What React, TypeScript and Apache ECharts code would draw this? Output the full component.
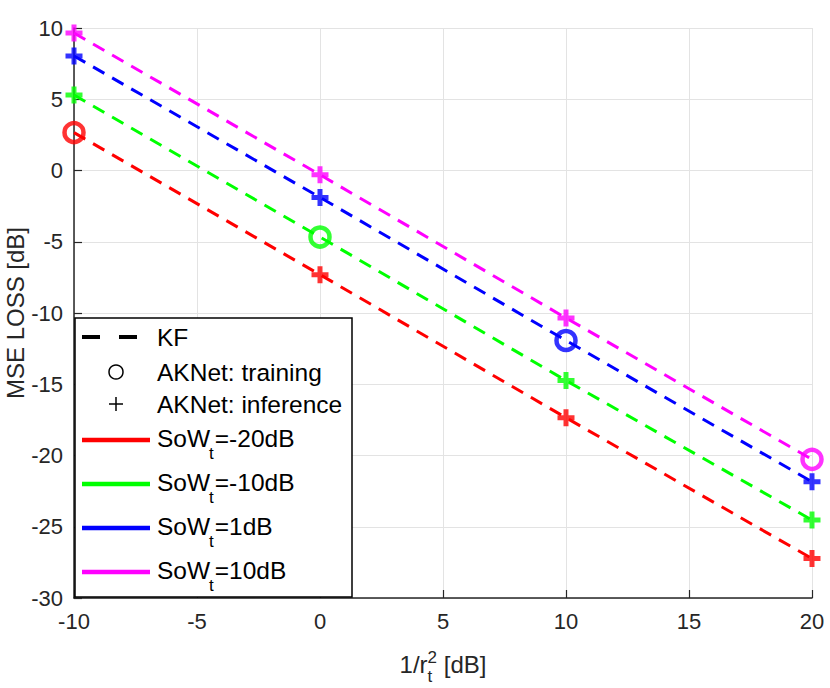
import React, { useEffect, useRef } from "react";
import * as echarts from "echarts";

const xValues = [-10, 0, 10, 20];
const colors = ["#ff0000", "#00ff00", "#0000ff", "#ff00ff"];
const sowLabels = ["=-20dB", "=-10dB", "=1dB", "=10dB"];

// KF (dashed lines)
const kfRed = [2.66, -7.31, -17.35, -27.23];
const kfGreen = [5.3, -4.67, -14.74, -24.53];
const kfBlue = [8.04, -1.89, -11.93, -21.84];
const kfMagenta = [9.65, -0.3, -10.35, -20.27];

// AKNet markers
const akRed = [2.66, -7.31, -17.35, -27.23];
const akGreen = [5.3, -4.67, -14.74, -24.53];
const akBlue = [8.04, -1.89, -11.93, -21.84];
const akMagenta = [9.65, -0.3, -10.35, -20.27];

// index of the x value where the marker is the training circle
const trainingIndex = [0, 1, 2, 3];

const xTitleMain = "1/r";
const xTitleSup = "2";
const xTitleSub = "t";
const xTitleTail = " [dB]";
const yTitle = "MSE LOSS [dB]";

const FONT = '"Liberation Sans", Arial, Helvetica, sans-serif';
const PLUS = "path://M5,0L5,10M0,5L10,5";

function measure(text: string, size: number): number {
  const c = document.createElement("canvas").getContext("2d");
  if (!c) return text.length * size * 0.55;
  c.font = `${size}px "Liberation Sans"`;
  return c.measureText(text).width;
}

export default function App() {
  const ref = useRef<HTMLDivElement>(null);
  useEffect(() => {
    if (!ref.current) return;
    const chart = echarts.init(ref.current, undefined, { renderer: "svg" });
    const kf = [kfRed, kfGreen, kfBlue, kfMagenta];
    const ak = [akRed, akGreen, akBlue, akMagenta];

    const series: any[] = [];
    kf.forEach((vals, i) => {
      series.push({
        type: "line",
        data: xValues.map((x, j) => [x, vals[j]]),
        showSymbol: false,
        symbol: "none",
        lineStyle: { color: colors[i], width: 3, type: [13, 9] },
        z: 2,
      });
    });
    ak.forEach((vals, i) => {
      series.push({
        type: "scatter",
        data: xValues.map((x, j) =>
          j === trainingIndex[i]
            ? {
                value: [x, vals[j]],
                symbol: "circle",
                symbolSize: 19,
                itemStyle: { color: "none", borderColor: colors[i], borderWidth: 4.5 },
              }
            : {
                value: [x, vals[j]],
                symbol: PLUS,
                symbolSize: 17,
                itemStyle: { color: "none", borderColor: colors[i], borderWidth: 5 },
              }
        ),
        z: 3,
      });
    });

    // legend
    const L = { x: 75, y: 318, w: 277, h: 279 };
    const tx = 157;
    const legendFont = 24.5;
    const subFont = 17;
    const graphics: any[] = [
      {
        type: "rect",
        shape: { x: L.x, y: L.y, width: L.w, height: L.h },
        style: { fill: "#ffffff", stroke: "#000000", lineWidth: 1.5 },
        z: 10,
      },
      {
        type: "line",
        shape: { x1: 82, y1: 337, x2: 137, y2: 337 },
        style: { stroke: "#000000", lineWidth: 4, lineDash: [18, 19] },
        z: 11,
      },
      {
        type: "text",
        x: tx,
        y: 337,
        style: { text: "KF", font: `${legendFont}px ${FONT}`, fill: "#000", verticalAlign: "middle" },
        z: 11,
      },
      {
        type: "circle",
        shape: { cx: 116, cy: 372, r: 7 },
        style: { fill: "none", stroke: "#000", lineWidth: 1.5 },
        z: 11,
      },
      {
        type: "text",
        x: tx,
        y: 372,
        style: { text: "AKNet: training", font: `${legendFont}px ${FONT}`, fill: "#000", verticalAlign: "middle" },
        z: 11,
      },
      {
        type: "line",
        shape: { x1: 109, y1: 404, x2: 123, y2: 404 },
        style: { stroke: "#000", lineWidth: 1.5 },
        z: 11,
      },
      {
        type: "line",
        shape: { x1: 116, y1: 397, x2: 116, y2: 411 },
        style: { stroke: "#000", lineWidth: 1.5 },
        z: 11,
      },
      {
        type: "text",
        x: tx,
        y: 404,
        style: { text: "AKNet: inference", font: `${legendFont}px ${FONT}`, fill: "#000", verticalAlign: "middle" },
        z: 11,
      },
    ];
    const rowY = [438, 482, 526, 570];
    const wSoW = measure("SoW", legendFont);
    const wt = measure("t", subFont);
    colors.forEach((c, i) => {
      const y = rowY[i];
      graphics.push({
        type: "line",
        shape: { x1: 82, y1: y + 2, x2: 150, y2: y + 2 },
        style: { stroke: c, lineWidth: 4.5 },
        z: 11,
      });
      graphics.push({
        type: "text",
        x: tx,
        y,
        style: { text: "SoW", font: `${legendFont}px ${FONT}`, fill: "#000", verticalAlign: "middle" },
        z: 11,
      });
      graphics.push({
        type: "text",
        x: tx + wSoW - 1,
        y: y + 15,
        style: { text: "t", font: `${subFont}px ${FONT}`, fill: "#000", verticalAlign: "middle" },
        z: 11,
      });
      graphics.push({
        type: "text",
        x: tx + wSoW + wt,
        y,
        style: { text: sowLabels[i], font: `${legendFont}px ${FONT}`, fill: "#000", verticalAlign: "middle" },
        z: 11,
      });
    });

    // x-axis title
    const titleFont = 24;
    const scriptFont = 17;
    const wMain = measure(xTitleMain, titleFont);
    const wScript = Math.max(measure(xTitleSup, scriptFont), measure(xTitleSub, scriptFont));
    const wTail = measure(xTitleTail, titleFont);
    const total = wMain + wScript + wTail;
    const cx = 443;
    const x0 = cx - total / 2;
    const ty = 664;
    graphics.push(
      {
        type: "text",
        x: x0,
        y: ty,
        style: { text: xTitleMain, font: `${titleFont}px ${FONT}`, fill: "#262626", verticalAlign: "middle" },
      },
      {
        type: "text",
        x: x0 + wMain,
        y: ty - 7,
        style: { text: xTitleSup, font: `${scriptFont}px ${FONT}`, fill: "#262626", verticalAlign: "middle" },
      },
      {
        type: "text",
        x: x0 + wMain,
        y: ty + 12,
        style: { text: xTitleSub, font: `${scriptFont}px ${FONT}`, fill: "#262626", verticalAlign: "middle" },
      },
      {
        type: "text",
        x: x0 + wMain + wScript,
        y: ty,
        style: { text: xTitleTail, font: `${titleFont}px ${FONT}`, fill: "#262626", verticalAlign: "middle" },
      },
      {
        type: "text",
        x: 15,
        y: 313,
        rotation: Math.PI / 2,
        style: {
          text: yTitle,
          font: `${titleFont}px ${FONT}`,
          fill: "#262626",
          align: "center",
          verticalAlign: "middle",
        },
      }
    );

    chart.setOption({
      animation: false,
      backgroundColor: "#ffffff",
      grid: { left: 74, right: 18, top: 28, bottom: 90, containLabel: false },
      xAxis: {
        type: "value",
        min: -10,
        max: 20,
        interval: 5,
        axisLine: { show: true, onZero: false, lineStyle: { color: "#262626", width: 1.5 } },
        axisTick: { show: true, inside: true, length: 8, lineStyle: { color: "#262626", width: 1.2 } },
        axisLabel: { color: "#262626", fontSize: 22, fontFamily: FONT, margin: 12 },
        splitLine: { show: true, lineStyle: { color: "#e3e3e3", width: 1 } },
      },
      yAxis: {
        type: "value",
        min: -30,
        max: 10,
        interval: 5,
        axisLine: { show: true, onZero: false, lineStyle: { color: "#262626", width: 1.5 } },
        axisTick: { show: true, inside: true, length: 8, lineStyle: { color: "#262626", width: 1.2 } },
        axisLabel: { color: "#262626", fontSize: 22, fontFamily: FONT, margin: 11 },
        splitLine: { show: true, lineStyle: { color: "#e3e3e3", width: 1 } },
      },
      series,
      graphic: graphics,
    });
    return () => chart.dispose();
  }, []);
  return (
    <div
      ref={ref}
      style={{ position: "fixed", left: 0, top: 0, width: 830, height: 688, background: "#fff" }}
    />
  );
}
